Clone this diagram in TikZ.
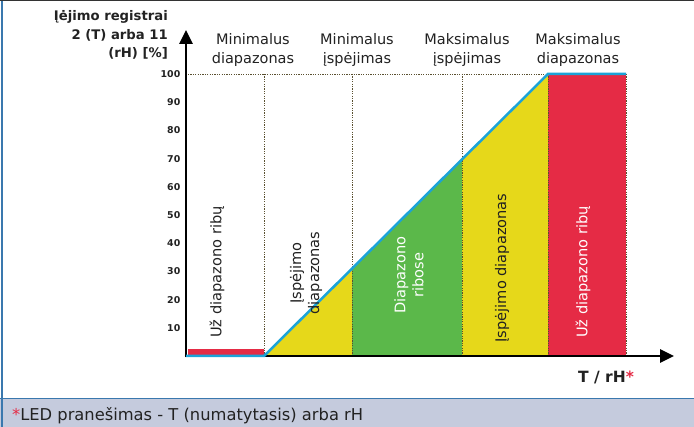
\documentclass[tikz,border=0pt]{standalone}
\usepackage{fontspec}
\setmainfont{DejaVu Sans}
\usetikzlibrary{arrows.meta}
\definecolor{cred}{HTML}{E52B45}
\definecolor{cyel}{HTML}{E6D81A}
\definecolor{cgreen}{HTML}{5BB84A}
\definecolor{cblue}{HTML}{1BA3D8}
\definecolor{foot}{HTML}{C5CBDD}
\definecolor{frameblue}{HTML}{3A78AE}
\definecolor{txt}{HTML}{222222}
\definecolor{dotc}{HTML}{5A5030}
\tikzset{
  lbl/.style={inner sep=0pt, text=txt, font=\fontsize{14.5}{19}\selectfont, align=center},
  rlbl/.style={lbl, rotate=90, font=\fontsize{14.6}{18}\selectfont},
  tick/.style={inner sep=0pt, anchor=east, text=txt, font=\fontsize{9.4}{10}\selectfont\bfseries},
  dotline/.style={dotc, line width=0.8pt, dash pattern=on 1.2pt off 1.2pt},
  axis/.style={black, line width=2.8pt, -{Triangle[length=14pt,width=13pt]}},
  curve/.style={cblue, line width=2.5pt, line join=miter}
}
\begin{document}
\begin{tikzpicture}[x=1pt,y=-1pt]
\useasboundingbox (0,0) rectangle (694,427);
\fill[white] (0,0) rectangle (694,427);
% footer band and frame
\fill[foot] (0,398) rectangle (694,427);
\draw[frameblue, line width=1.2pt] (0,398.5) -- (694,398.5);
\draw[frameblue, line width=2pt] (1.5,0) -- (1.5,427);
\draw[black!80, line width=1.5pt] (0,0.75) -- (694,0.75);
% coordinates
\coordinate (O) at (186,356);
\coordinate (ytop) at (186,30);
\coordinate (xend) at (674,356);
\coordinate (k1) at (264,356);
\coordinate (k2) at (548,74);
\coordinate (k3) at (626,74);
% zones
\fill[cred] (188,349) rectangle (264,355);
\fill[cyel] (264,356) -- (352,268.6) -- (352,356) -- cycle;
\fill[cgreen] (352,356) -- (352,268.6) -- (462,159.4) -- (462,356) -- cycle;
\fill[cyel] (462,356) -- (462,159.4) -- (548,74) -- (548,356) -- cycle;
\fill[cred] (548,74) rectangle (626,356);
% dotted guides
\draw[dotline] (188,74) -- (548,74);
\foreach \x in {264,352,462,548,626} \draw[dotline] (\x,74) -- (\x,355);
% axes
\draw[axis] ([yshift=-1.4pt]O) -- (ytop);
\draw[axis] ([xshift=-1.4pt]O) -- (xend);
% curve
\draw[curve] (O) -- (k1) -- (k2) -- (k3);
% ticks
\foreach \v/\y in {100/74,90/102.2,80/130.4,70/158.6,60/186.8,50/215,40/243.2,30/271.4,20/299.6,10/327.8}
  \node[tick] (t\v) at (180.5,\y) {\v};
% title
\node[inner sep=0pt, anchor=east, align=right, text=txt, font=\fontsize{13.2}{18.5}\selectfont\bfseries] (title) at (168,35) {Įėjimo registrai\\2 (T) arba 11\\(rH) [\%]};
% headers
\node[lbl] (h1) at (253,50) {Minimalus\\diapazonas};
\node[lbl] (h2) at (357,50) {Minimalus\\įspėjimas};
\node[lbl] (h3) at (467,50) {Maksimalus\\įspėjimas};
\node[lbl] (h4) at (578,50) {Maksimalus\\diapazonas};
% zone labels
\node[rlbl] (z1) at (217,272) {Už diapazono ribų};
\node[rlbl] (z2) at (306,273) {Įspėjimo\\diapazonas};
\node[rlbl, text=white] (z3) at (409,275) {Diapazono\\ribose};
\node[rlbl] (z4) at (502,268) {Įspėjimo diapazonas};
\node[rlbl, text=white] (z5) at (583,272) {Už diapazono ribų};
% axis label
\node[inner sep=0pt, text=txt, font=\fontsize{15.5}{18}\selectfont\bfseries] (xl) at (606,377) {T / rH\textcolor{cred}{*}};
% footer text
\node[inner sep=0pt, anchor=west, text=txt, font=\fontsize{16.3}{18}\selectfont] (ft) at (12,416) {\textcolor{cred}{*}LED pranešimas - T (numatytasis) arba rH};
\end{tikzpicture}
\end{document}
